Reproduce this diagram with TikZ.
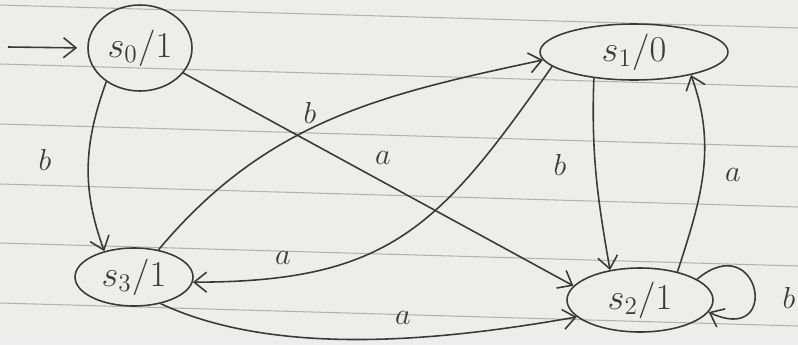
\documentclass[tikz,border=0pt]{standalone}
\usepackage{tikz}
\usepackage{xcolor}
\usetikzlibrary{arrows.meta,positioning,shapes.geometric}
\definecolor{paper}{HTML}{EDEDEA}
\definecolor{ink}{HTML}{3A3A3A}
\definecolor{paperline}{HTML}{B2B2B0}
\tikzset{
  statebox/.style={draw=ink,ellipse,line width=0.9pt,inner sep=0pt,
                   font=\huge,text=ink},
  inkarr/.style={-{Straight Barb[length=2.5mm,width=4mm]},draw=ink,line width=0.9pt},
  lbl/.style={font=\LARGE,text=ink,inner sep=1pt}
}

\begin{document}
\begin{tikzpicture}[x=0.02cm,y=-0.02cm]
  % paper and ruled lines
  \fill[paper] (0,0) rectangle (798,345);
  \useasboundingbox (0,0) rectangle (798,345);
  \foreach \y in {5,64,124,184,243,303} {
    \draw[paperline,line width=0.6pt] (0,\y) -- (798,\y+23);
  }

  % states
  \node[statebox,minimum width=2.08cm,minimum height=1.72cm] (s0) at (140,48) {$s_0/1$};
  \node[statebox,minimum width=3.76cm,minimum height=1.12cm] (s1) at (634,52) {$s_1/0$};
  \node[statebox,minimum width=2.92cm,minimum height=1.28cm] (s2) at (640,300) {$s_2/1$};
  \node[statebox,minimum width=2.36cm,minimum height=1.16cm] (s3) at (134,277) {$s_3/1$};

  % start arrow
  \coordinate (start) at (8,47);
  \draw[inkarr,shorten >=0.2cm] (start) -- (s0.180);

  % transitions
  \draw[inkarr] (s0.225) to[out=250,in=110] (s3.139);
  \node[lbl] (b03) at (45,160) {$b$};

  \draw[inkarr] (s0.330) -- (s2.168);
  \node[lbl] (a02) at (383,158) {$a$};

  \draw[inkarr] (s3.48) to[out=50,in=192] (s1.185);
  \node[lbl] (b31) at (310,113) {$b$};

  \draw[inkarr] (s1.190) to[out=235,in=0,looseness=1.2] (s3.355);
  \node[lbl] (a13) at (283,258) {$a$};

  \draw[inkarr] (s1.213) to[out=268,in=100] (s2.135);
  \node[lbl] (b12) at (560,165) {$b$};

  \draw[inkarr] (s2.37) to[out=72,in=290] (s1.338);
  \node[lbl] (a21) at (733,175) {$a$};

  \draw[inkarr] (s2.20) to[out=40,in=-25,looseness=6] (s2.350);
  \node[lbl] (b22) at (789,298) {$b$};

  \draw[inkarr] (s3.315) to[out=-25,in=190,looseness=0.8] (s2.195);
  \node[lbl] (a32) at (403,318) {$a$};
\end{tikzpicture}
\end{document}
